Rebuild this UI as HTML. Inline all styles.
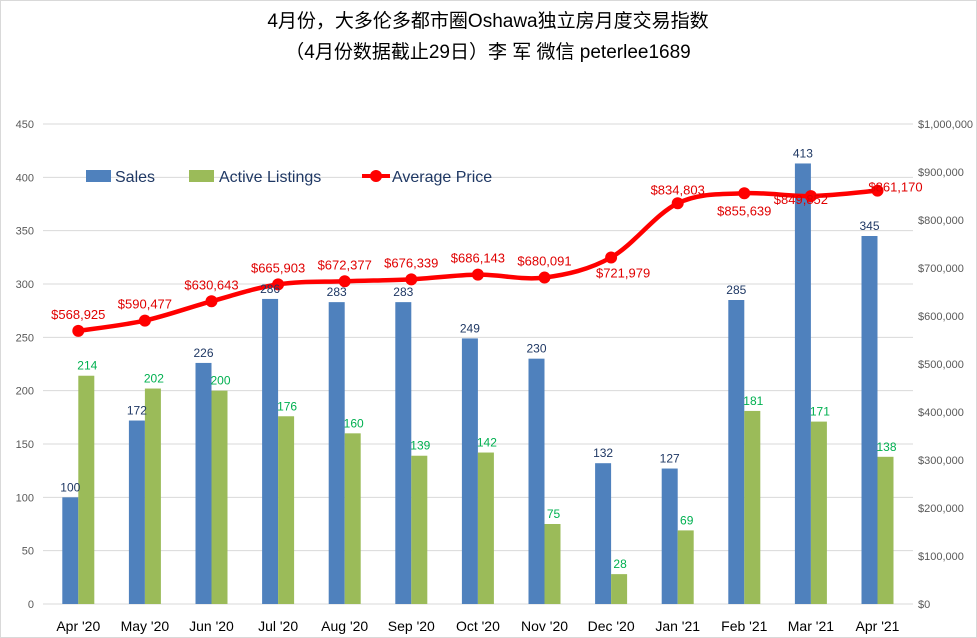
<!DOCTYPE html>
<html><head><meta charset="utf-8"><style>
body{margin:0;background:#fff}
svg{display:block;font-family:"Liberation Sans","Noto Sans CJK SC",sans-serif}
</style></head><body>
<svg id="c" width="977" height="638">
<rect x="0.5" y="0.5" width="976" height="637" fill="#fff" stroke="#d9d9d9"/>
<text x="488" y="27" text-anchor="middle" font-size="19" fill="#000">4月份，大多伦多都市圈Oshawa独立房月度交易指数</text>
<text x="488" y="58" text-anchor="middle" font-size="19" fill="#000">（4月份数据截止29日）李 军  微信  peterlee1689</text>
<g id="grid"></g><g id="bars"></g><g id="line"></g><g id="labels"></g>
<g>
<rect x="86" y="170" width="25" height="12" fill="#4f81bd"/>
<text x="115" y="182" font-size="16" fill="#1f3864">Sales</text>
<rect x="189" y="170" width="25" height="12" fill="#9bbb59"/>
<text x="219" y="182" font-size="16" fill="#1f3864">Active Listings</text>
<line x1="362" y1="176" x2="390" y2="176" stroke="#ff0000" stroke-width="4"/>
<circle cx="376" cy="176" r="6" fill="#ff0000"/>
<text x="392" y="182" font-size="16" fill="#1f3864">Average Price</text>
</g>
</svg>
<script>
const categories=["Apr '20","May '20","Jun '20","Jul '20","Aug '20","Sep '20","Oct '20","Nov '20","Dec '20","Jan '21","Feb '21","Mar '21","Apr '21"];
const sales=[100,172,226,286,283,283,249,230,132,127,285,413,345];
const listings=[214,202,200,176,160,139,142,75,28,69,181,171,138];
const prices=[568925,590477,630643,665903,672377,676339,686143,680091,721979,834803,855639,849852,861170];
const leftTicks=[0,50,100,150,200,250,300,350,400,450];
const rightTicks=[0,100000,200000,300000,400000,500000,600000,700000,800000,900000,1000000];
const NS="http://www.w3.org/2000/svg";
const X0=45,STEP=66.6,Y0=604,H=480;
const xc=i=>X0+STEP*(i+0.5);
const yL=v=>Y0-v/450*H;
const yR=v=>Y0-v/1000000*H;
function mk(t,p,a){const e=document.createElementNS(NS,t);for(const k in a)e.setAttribute(k,a[k]);p.appendChild(e);return e;}
const g=document.getElementById('grid'),b=document.getElementById('bars'),l=document.getElementById('line'),lb=document.getElementById('labels');
leftTicks.forEach(v=>{
 const ln=mk('line',g,{x1:43,x2:913,y1:yL(v),y2:yL(v),stroke:'#d9d9d9'});
 
 
 const t=mk('text',g,{x:34,y:yL(v)+4,'text-anchor':'end','font-size':11,fill:'#595959'});t.textContent=v;
 
 
});
rightTicks.forEach(v=>{
 const t=mk('text',g,{x:918,y:yR(v)+4,'font-size':11,fill:'#595959'});t.textContent='$'+v.toLocaleString('en-US');
 
 
});
categories.forEach((c,i)=>{
 const t=mk('text',g,{x:xc(i),y:631,'text-anchor':'middle','font-size':14,fill:'#000'});t.textContent=c;
 
 
});
sales.forEach((v,i)=>{
 const r=mk('rect',b,{x:xc(i)-16,y:yL(v),width:16,height:Y0-yL(v),fill:'#4f81bd'});
 
 
 const t=mk('text',lb,{x:xc(i)-8,y:yL(v)-6,'text-anchor':'middle','font-size':12,fill:'#1f3864'});t.textContent=v;
 
 
});
listings.forEach((v,i)=>{
 const r=mk('rect',b,{x:xc(i),y:yL(v),width:16,height:Y0-yL(v),fill:'#9bbb59'});
 
 
 const t=mk('text',lb,{x:xc(i)+9,y:yL(v)-6,'text-anchor':'middle','font-size':12,fill:'#00b050'});t.textContent=v;
 
 
});
const pts=prices.map((v,i)=>[xc(i),yR(v)]);
let d='M'+pts[0][0]+','+pts[0][1];
for(let i=0;i<pts.length-1;i++){
 const p0=pts[Math.max(0,i-1)],p1=pts[i],p2=pts[i+1],p3=pts[Math.min(pts.length-1,i+2)];
 const k=1/6;
 d+=` C${p1[0]+(p2[0]-p0[0])*k},${p1[1]+(p2[1]-p0[1])*k} ${p2[0]-(p3[0]-p1[0])*k},${p2[1]-(p3[1]-p1[1])*k} ${p2[0]},${p2[1]}`;
}
const path=mk('path',l,{d:d,fill:'none',stroke:'#ff0000','stroke-width':4.5,'stroke-linejoin':'round'});


const offs=[[0,-16],[0,-16],[0,-16],[0,-16],[0,-16],[0,-16],[0,-16],[0,-16],[12,16],[0,-13],[0,18],[-10,4],[18,-3]];
prices.forEach((v,i)=>{
 const c=mk('circle',l,{cx:pts[i][0],cy:pts[i][1],r:6,fill:'#ff0000'});
 
 
 const t=mk('text',lb,{x:pts[i][0]+offs[i][0],y:pts[i][1]+offs[i][1]+4,'text-anchor':'middle','font-size':13,fill:'#e00000'});t.textContent='$'+v.toLocaleString('en-US');
 
 
});
</script>
</body></html>
